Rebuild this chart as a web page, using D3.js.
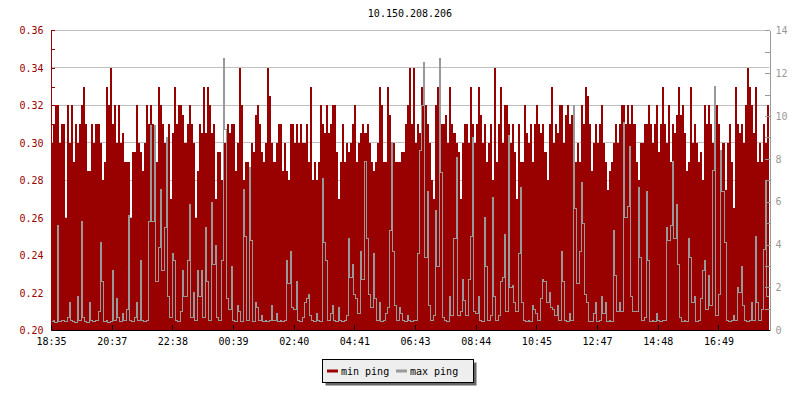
<!DOCTYPE html>
<html>
<head>
<meta charset="utf-8">
<script src="https://cdn.jsdelivr.net/npm/d3@7"></script>
<style>
  body { margin: 0; background: #fff; }
  svg { display: block; }
</style>
</head>
<body>
<svg id="chart" width="800" height="400"></svg>
<script>
const title = "10.150.208.206";
const timeLabels = ["18:35", "20:37", "22:38", "00:39", "02:40", "04:41", "06:43", "08:44", "10:45", "12:47", "14:48", "16:49"];
const labelEvery = 30;
const seriesNames = ["min ping", "max ping"];

// min ping, seconds (left axis)
const minPing = [
  0.30,0.31,0.32,0.32,0.30,0.31,0.31,0.26,0.32,0.30,
  0.32,0.29,0.31,0.30,0.31,0.32,0.33,0.31,0.285,0.285,
  0.31,0.30,0.31,0.31,0.30,0.28,0.29,0.33,0.32,0.34,
  0.31,0.32,0.30,0.32,0.30,0.305,0.29,0.29,0.29,0.26,
  0.295,0.295,0.32,0.30,0.295,0.285,0.30,0.32,0.31,0.32,
  0.31,0.30,0.29,0.33,0.32,0.31,0.30,0.29,0.31,0.27,
  0.305,0.33,0.31,0.32,0.32,0.315,0.30,0.31,0.32,0.31,
  0.30,0.26,0.285,0.31,0.305,0.33,0.305,0.33,0.32,0.305,
  0.31,0.27,0.295,0.295,0.28,0.30,0.30,0.31,0.305,
  0.31,0.31,0.285,0.30,0.34,0.32,0.28,0.29,0.29,0.27,
  0.30,0.295,0.315,0.32,0.31,0.295,0.29,0.30,0.34,0.325,
  0.30,0.29,0.30,0.31,0.31,0.285,0.30,0.285,0.28,0.31,
  0.31,0.30,0.31,0.30,0.31,0.30,0.30,0.31,0.29,0.33,
  0.28,0.29,0.28,0.29,0.32,0.31,0.305,0.32,0.305,0.31,
  0.32,0.32,0.295,0.27,0.29,0.31,0.29,0.30,0.295,0.30,
  0.31,0.32,0.29,0.30,0.305,0.31,0.305,0.31,0.30,0.29,
  0.285,0.29,0.30,0.33,0.32,0.29,0.29,0.33,0.315,0.30,
  0.30,0.29,0.29,0.29,0.295,0.295,0.31,0.32,0.34,
  0.31,0.34,0.30,0.31,0.305,0.33,0.32,0.32,0.31,0.30,
  0.28,0.27,0.32,0.33,0.305,0.31,0.31,0.315,0.30,0.33,
  0.31,0.305,0.30,0.295,0.27,0.30,0.31,0.31,0.30,0.33,
  0.31,0.30,0.31,0.33,0.315,0.30,0.31,0.29,0.30,0.31,
  0.28,0.34,0.29,0.31,0.33,0.30,0.32,0.32,0.31,0.30,
  0.31,0.295,0.27,0.31,0.29,0.29,0.32,0.305,0.30,0.31,
  0.29,0.31,0.32,0.31,0.305,0.31,0.295,0.28,0.31,0.33,
  0.30,0.31,0.305,0.32,0.32,0.30,0.315,0.32,0.31,0.315,
  0.32,0.29,0.30,0.29,0.32,0.31,0.33,0.325,
  0.31,0.285,0.30,0.31,0.30,0.31,0.32,0.30,0.29,0.275,
  0.285,0.29,0.30,0.31,0.30,0.31,0.32,0.32,0.31,0.32,
  0.31,0.32,0.31,0.29,0.28,0.30,0.30,0.31,0.31,0.32,
  0.31,0.30,0.31,0.32,0.295,0.31,0.33,0.31,0.30,0.32,
  0.29,0.31,0.305,0.315,0.33,0.315,0.32,0.305,0.285,0.29,
  0.33,0.30,0.31,0.30,0.29,0.295,0.28,0.32,0.31,0.32,
  0.31,0.30,0.32,0.32,0.31,0.29,0.30,0.275,0.30,0.31,
  0.29,0.265,0.33,0.31,0.305,0.31,0.30,0.32,0.34,0.33,
  0.32,0.305,0.33,0.29,0.30,0.29,0.31,0.30,0.32
];

// max ping, seconds (right axis)
const maxPing = [
  0.45,0.5,0.4,4.9,0.45,0.5,0.5,0.45,0.6,1.3,
  0.5,0.45,0.4,1.6,0.5,5.1,0.6,0.45,0.4,1.3,
  0.5,0.45,0.5,0.9,4.1,2.3,0.45,0.5,0.4,0.45,
  2.8,0.5,1.5,0.6,0.45,0.8,0.5,1.0,5.4,0.5,
  0.45,0.6,1.3,0.5,3.3,0.5,0.45,0.5,5.1,9.6,
  5.1,9.6,2.3,3.9,6.6,2.8,4.8,9.0,1.6,0.6,
  3.6,3.3,0.5,0.45,0.9,2.8,1.6,3.3,5.9,0.6,
  1.8,0.5,2.8,1.6,2.8,0.6,4.8,2.3,0.5,6.0,
  3.1,4.0,0.6,0.5,3.3,12.7,9.4,1.5,1.0,
  3.0,0.5,0.45,1.2,0.9,0.45,6.6,4.4,0.5,7.6,
  4.2,0.45,1.3,1.1,0.5,0.7,0.45,0.5,0.45,0.5,
  1.2,0.5,0.8,0.45,0.5,0.45,0.5,3.3,2.2,3.7,
  1.1,1.0,2.3,0.5,0.45,0.6,1.3,1.5,1.7,0.7,
  0.5,0.45,0.8,0.5,0.45,7.1,4.1,3.3,0.5,0.8,
  1.2,0.5,0.45,1.1,0.5,0.45,0.5,0.7,4.3,2.5,
  3.1,1.7,1.5,0.8,3.7,2.4,7.9,4.3,1.7,1.1,
  3.6,1.5,0.5,1.3,0.45,0.5,0.8,1.1,4.7,8.8,
  3.7,1.2,0.5,1.1,0.8,0.5,0.45,0.7,0.5,
  0.45,0.5,0.5,3.6,8.4,10.5,12.5,3.4,6.5,1.2,
  0.5,0.7,5.6,3.0,12.7,7.4,0.6,0.5,0.45,1.6,
  0.7,4.3,8.1,0.7,0.9,2.4,1.4,0.7,2.4,4.4,
  9.0,0.9,0.8,1.6,0.5,0.45,5.3,3.0,0.5,0.7,
  6.2,1.6,0.5,0.7,2.3,2.5,4.5,0.9,9.1,2.0,
  2.1,1.3,0.9,3.6,6.7,1.3,0.5,0.45,0.5,0.45,
  1.2,1.0,0.8,0.5,1.5,2.4,2.3,1.3,1.8,1.1,
  1.0,0.7,1.2,0.5,3.7,2.3,0.5,0.45,0.8,0.5,
  10.5,5.7,2.2,3.7,6.9,5.0,1.7,1.3,
  0.45,0.45,0.8,1.3,0.45,0.5,1.6,0.8,1.3,0.45,
  0.5,0.45,4.7,2.6,0.9,1.3,0.9,9.7,5.3,5.8,
  8.6,1.6,0.9,0.9,6.7,3.4,0.5,0.6,6.5,3.3,
  0.45,0.5,0.45,0.8,0.5,0.45,0.5,0.5,4.8,4.2,
  4.9,7.9,4.3,5.9,3.1,0.6,0.45,0.5,0.45,4.3,
  3.4,1.3,1.6,0.45,0.5,1.5,2.8,3.3,1.0,2.6,
  1.2,7.5,11.4,0.7,1.7,8.4,6.5,4.1,0.5,0.45,
  0.5,0.7,0.5,2.0,1.8,3.0,1.2,0.5,0.45,0.5,
  1.3,0.5,4.4,1.3,0.5,1.0,3.8,7.0,1.6
];

const red = "#990000";
const grey = "#999999";
const font = "'DejaVu Sans Mono', monospace";

const n = minPing.length;
const x = d3.scaleLinear().domain([0, n]).range([51, 769]);
const yMin = d3.scaleLinear().domain([0.20, 0.36]).range([330.3, 30.3]);
const yMax = d3.scaleLinear().domain([0, 14]).range([330.3, 30.3]);

const col = i => Math.round(x(i));
const row = v => Math.round(yMax(v));

const svg = d3.select("#chart")
    .style("font-family", font)
    .style("font-size", "10px");

svg.append("text")
    .attr("x", 410)
    .attr("y", 17)
    .attr("text-anchor", "middle")
    .attr("fill", "#000")
    .text(title);

// horizontal grid at the labelled left ticks
svg.append("g")
  .selectAll("line")
  .data(d3.range(0.20, 0.3601, 0.02))
  .enter().append("line")
    .attr("x1", 51)
    .attr("x2", 769)
    .attr("y1", d => Math.floor(yMin(d)) + 0.5)
    .attr("y2", d => Math.floor(yMin(d)) + 0.5)
    .attr("stroke", "#c0c0c0")
    .attr("shape-rendering", "crispEdges");

const pts = (arr) => arr.map((v, i) => [i, v]).concat([[arr.length, arr[arr.length - 1]]]);

svg.append("path")
    .datum(pts(minPing))
    .attr("fill", red)
    .attr("shape-rendering", "crispEdges")
    .attr("d", d3.area()
        .curve(d3.curveStepAfter)
        .x(d => col(d[0]))
        .y0(Math.round(yMin(0.20)))
        .y1(d => Math.round(yMin(d[1]))));

// max ping as a pixel step line: risers sit inside the higher sample
const greyPath = d3.path();
maxPing.forEach((v, i) => {
  greyPath.rect(col(i), row(v), col(i + 1) - col(i), 1);
  if (i < n - 1) {
    const w = maxPing[i + 1];
    const c = w > v ? col(i + 1) : col(i + 1) - 1;
    const top = Math.min(row(v), row(w));
    greyPath.rect(c, top, 1, Math.abs(row(v) - row(w)) + 1);
  }
});
svg.append("path")
    .attr("d", greyPath.toString())
    .attr("fill", grey)
    .attr("shape-rendering", "crispEdges");

const leftAxis = svg.append("g")
    .attr("transform", "translate(50.5,0)")
    .attr("color", red)
    .call(d3.axisLeft(yMin)
        .tickValues(d3.range(0, 17).map(i => 0.20 + i * 0.01))
        .tickSize(-4)
        .tickSizeOuter(0)
        .tickPadding(7)
        .tickFormat((d, i) => i % 2 === 0 ? d3.format(".2f")(d) : ""));

const rightAxis = svg.append("g")
    .attr("transform", "translate(769.5,0)")
    .attr("color", grey)
    .call(d3.axisRight(yMax)
        .tickValues(d3.range(0, 15))
        .tickSize(-5)
        .tickSizeOuter(0)
        .tickPadding(6)
        .tickFormat(d => d % 2 === 0 ? d : ""));

const bottomAxis = svg.append("g")
    .attr("transform", "translate(0,329.5)")
    .attr("color", "#000")
    .call(d3.axisBottom(x)
        .tickValues(timeLabels.map((t, i) => i * labelEvery))
        .tickSize(-5)
        .tickSizeOuter(0)
        .tickPadding(8)
        .tickFormat(d => timeLabels[d / labelEvery]));

[leftAxis, rightAxis, bottomAxis].forEach(g => g
    .attr("font-family", font)
    .attr("font-size", 10)
    .selectAll("path, line").attr("shape-rendering", "crispEdges"));

// legend
const legend = svg.append("g").attr("transform", "translate(322,359)");
legend.append("rect")
    .attr("x", 3.5).attr("y", 3.5)
    .attr("width", 151).attr("height", 23)
    .attr("fill", "#666");
legend.append("rect")
    .attr("x", 0.5).attr("y", 0.5)
    .attr("width", 151).attr("height", 23)
    .attr("fill", "#eeeeee")
    .attr("stroke", "#000")
    .attr("shape-rendering", "crispEdges");

const item = legend.selectAll("g.item")
  .data(seriesNames)
  .enter().append("g")
    .attr("class", "item")
    .attr("transform", (d, i) => `translate(${5 + i * 69},0)`);
item.append("line")
    .attr("x1", 0).attr("x2", 11)
    .attr("y1", 12).attr("y2", 12)
    .attr("stroke", (d, i) => i === 0 ? red : grey)
    .attr("stroke-width", 3);
item.append("text")
    .attr("x", 14)
    .attr("y", 15.5)
    .attr("fill", "#000")
    .text(d => d);
</script>
</body>
</html>
